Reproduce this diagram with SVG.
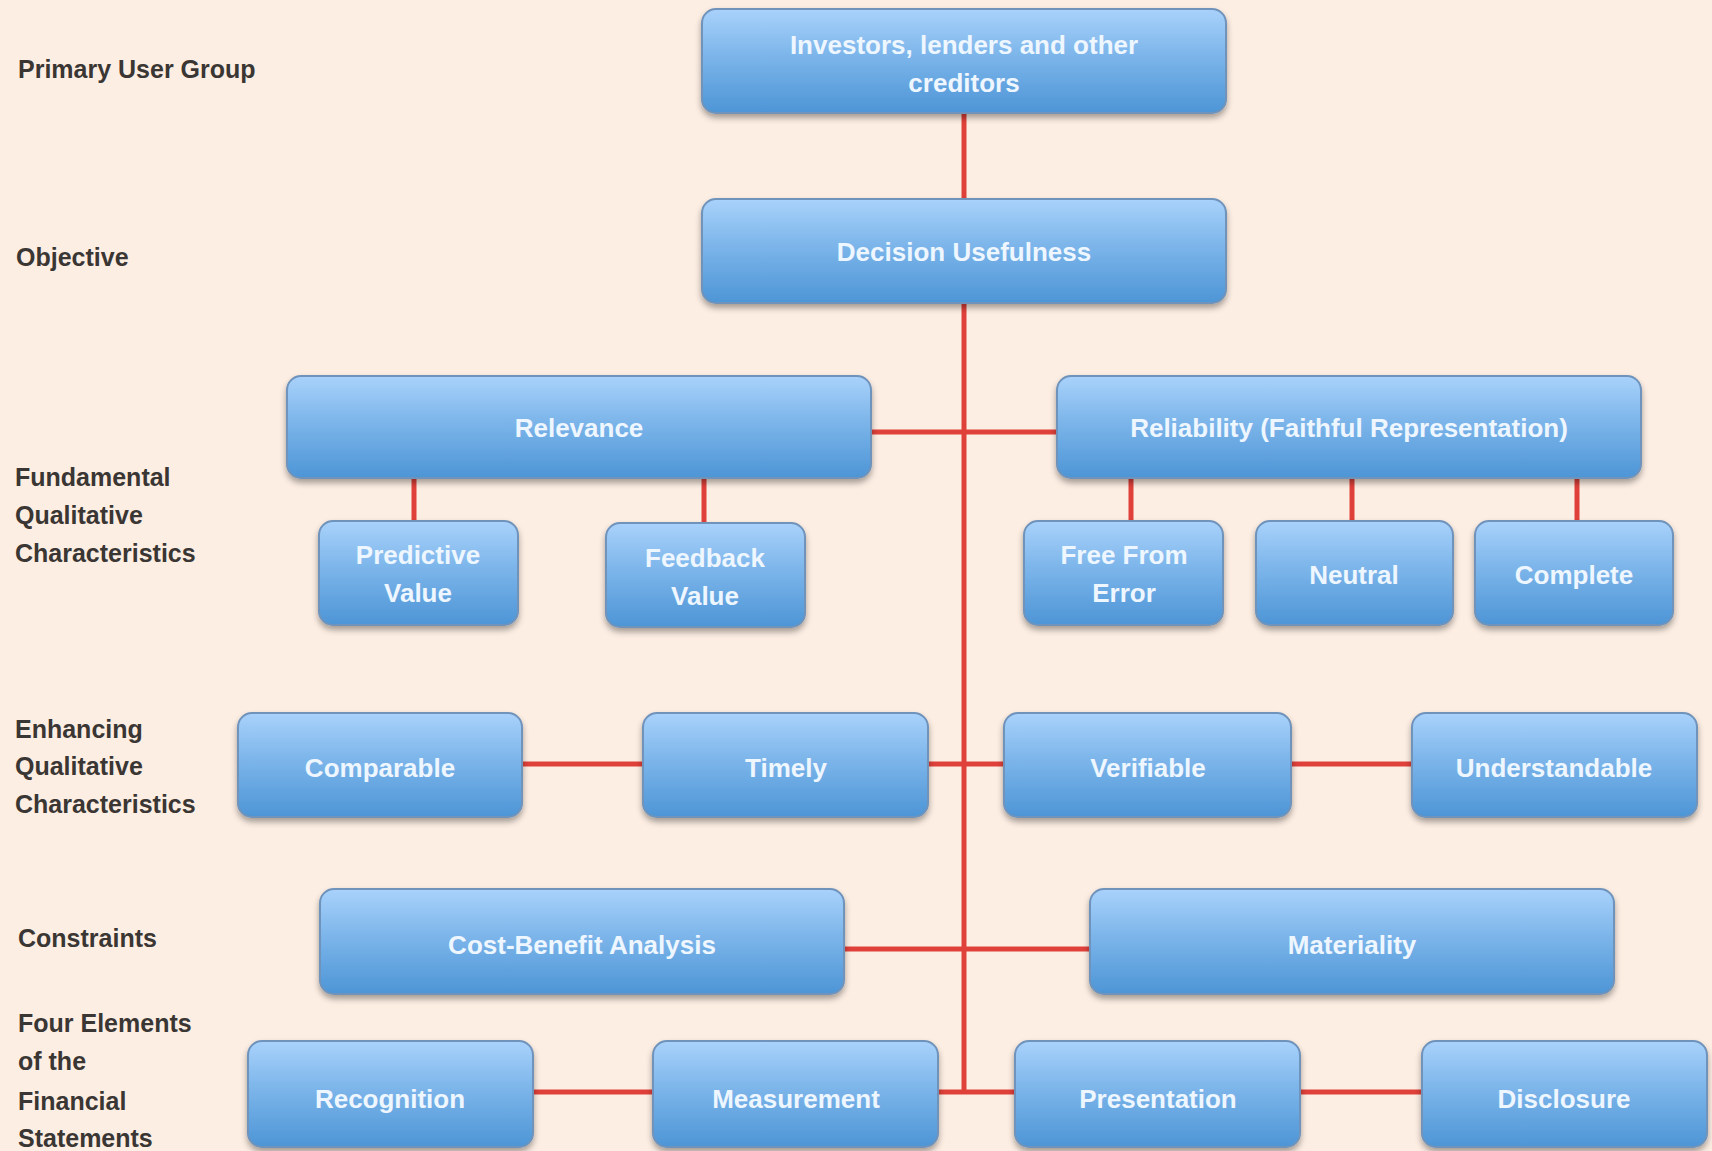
<svg xmlns="http://www.w3.org/2000/svg" width="1712" height="1151" viewBox="0 0 1712 1151">
<defs>
<linearGradient id="bx" x1="0" y1="0" x2="0" y2="1">
<stop offset="0" stop-color="#a9d2fb"/>
<stop offset="0.45" stop-color="#7cb5ea"/>
<stop offset="1" stop-color="#4d95d6"/>
</linearGradient>
<filter id="sh" x="-5%" y="-10%" width="110%" height="130%">
<feGaussianBlur in="SourceAlpha" stdDeviation="3"/>
<feOffset dy="4" result="b"/>
<feComponentTransfer><feFuncA type="linear" slope="0.35"/></feComponentTransfer>
<feMerge><feMergeNode/><feMergeNode in="SourceGraphic"/></feMerge>
</filter>
</defs>
<style>
.box{fill:url(#bx);stroke:#6f93bb;stroke-width:2;filter:url(#sh)}
.t{font-family:"Liberation Sans",Arial,sans-serif;font-size:26px;font-weight:bold;fill:#eef6ff;text-anchor:middle}
.lbl{font-family:"Liberation Sans",Arial,sans-serif;font-size:25px;font-weight:bold;fill:#3a3633}
.c{stroke:#e0403a;stroke-width:5;fill:none}
</style>
<rect width="1712" height="1151" fill="#fdeee3"/>
<g id="labels">
<text class="lbl" x="18" y="78">Primary User Group</text>
<text class="lbl" x="16" y="266">Objective</text>
<text class="lbl" x="15" y="486">Fundamental</text>
<text class="lbl" x="15" y="524">Qualitative</text>
<text class="lbl" x="15" y="562">Characteristics</text>
<text class="lbl" x="15" y="738">Enhancing</text>
<text class="lbl" x="15" y="775">Qualitative</text>
<text class="lbl" x="15" y="813">Characteristics</text>
<text class="lbl" x="18" y="947">Constraints</text>
<text class="lbl" x="18" y="1032">Four Elements</text>
<text class="lbl" x="18" y="1070">of the</text>
<text class="lbl" x="18" y="1110">Financial</text>
<text class="lbl" x="18" y="1147">Statements</text>
</g>
<g id="connectors">
<line class="c" x1="964" y1="112" x2="964" y2="1094"/>
<line class="c" x1="871" y1="432" x2="1057" y2="432"/>
<line class="c" x1="414" y1="478" x2="414" y2="521"/>
<line class="c" x1="704" y1="478" x2="704" y2="523"/>
<line class="c" x1="1131" y1="478" x2="1131" y2="521"/>
<line class="c" x1="1352" y1="478" x2="1352" y2="521"/>
<line class="c" x1="1577" y1="478" x2="1577" y2="521"/>
<line class="c" x1="522" y1="764" x2="643" y2="764"/>
<line class="c" x1="928" y1="764" x2="1004" y2="764"/>
<line class="c" x1="1291" y1="764" x2="1412" y2="764"/>
<line class="c" x1="844" y1="949" x2="1090" y2="949"/>
<line class="c" x1="533" y1="1092" x2="653" y2="1092"/>
<line class="c" x1="938" y1="1092" x2="1015" y2="1092"/>
<line class="c" x1="1300" y1="1092" x2="1422" y2="1092"/>
</g>
<g id="n-investors"><rect class="box" x="702" y="9" width="524" height="104" rx="14"/><text class="t" x="964" y="54">Investors, lenders and other</text><text class="t" x="964" y="92">creditors</text></g>
<g id="n-decision"><rect class="box" x="702" y="199" width="524" height="104" rx="14"/><text class="t" x="964" y="261">Decision Usefulness</text></g>
<g id="n-relevance"><rect class="box" x="287" y="376" width="584" height="102" rx="14"/><text class="t" x="579" y="437">Relevance</text></g>
<g id="n-reliability"><rect class="box" x="1057" y="376" width="584" height="102" rx="14"/><text class="t" x="1349" y="437">Reliability (Faithful Representation)</text></g>
<g id="n-predictive"><rect class="box" x="319" y="521" width="199" height="104" rx="14"/><text class="t" x="418" y="564">Predictive</text><text class="t" x="418" y="602">Value</text></g>
<g id="n-feedback"><rect class="box" x="606" y="523" width="199" height="104" rx="14"/><text class="t" x="705" y="567">Feedback</text><text class="t" x="705" y="605">Value</text></g>
<g id="n-freefromerror"><rect class="box" x="1024" y="521" width="199" height="104" rx="14"/><text class="t" x="1124" y="564">Free From</text><text class="t" x="1124" y="602">Error</text></g>
<g id="n-neutral"><rect class="box" x="1256" y="521" width="197" height="104" rx="14"/><text class="t" x="1354" y="584">Neutral</text></g>
<g id="n-complete"><rect class="box" x="1475" y="521" width="198" height="104" rx="14"/><text class="t" x="1574" y="584">Complete</text></g>
<g id="n-comparable"><rect class="box" x="238" y="713" width="284" height="104" rx="14"/><text class="t" x="380" y="777">Comparable</text></g>
<g id="n-timely"><rect class="box" x="643" y="713" width="285" height="104" rx="14"/><text class="t" x="786" y="777">Timely</text></g>
<g id="n-verifiable"><rect class="box" x="1004" y="713" width="287" height="104" rx="14"/><text class="t" x="1148" y="777">Verifiable</text></g>
<g id="n-understandable"><rect class="box" x="1412" y="713" width="285" height="104" rx="14"/><text class="t" x="1554" y="777">Understandable</text></g>
<g id="n-costbenefit"><rect class="box" x="320" y="889" width="524" height="105" rx="14"/><text class="t" x="582" y="954">Cost-Benefit Analysis</text></g>
<g id="n-materiality"><rect class="box" x="1090" y="889" width="524" height="105" rx="14"/><text class="t" x="1352" y="954">Materiality</text></g>
<g id="n-recognition"><rect class="box" x="248" y="1041" width="285" height="106" rx="14"/><text class="t" x="390" y="1108">Recognition</text></g>
<g id="n-measurement"><rect class="box" x="653" y="1041" width="285" height="106" rx="14"/><text class="t" x="796" y="1108">Measurement</text></g>
<g id="n-presentation"><rect class="box" x="1015" y="1041" width="285" height="106" rx="14"/><text class="t" x="1158" y="1108">Presentation</text></g>
<g id="n-disclosure"><rect class="box" x="1422" y="1041" width="285" height="106" rx="14"/><text class="t" x="1564" y="1108">Disclosure</text></g>
</svg>
